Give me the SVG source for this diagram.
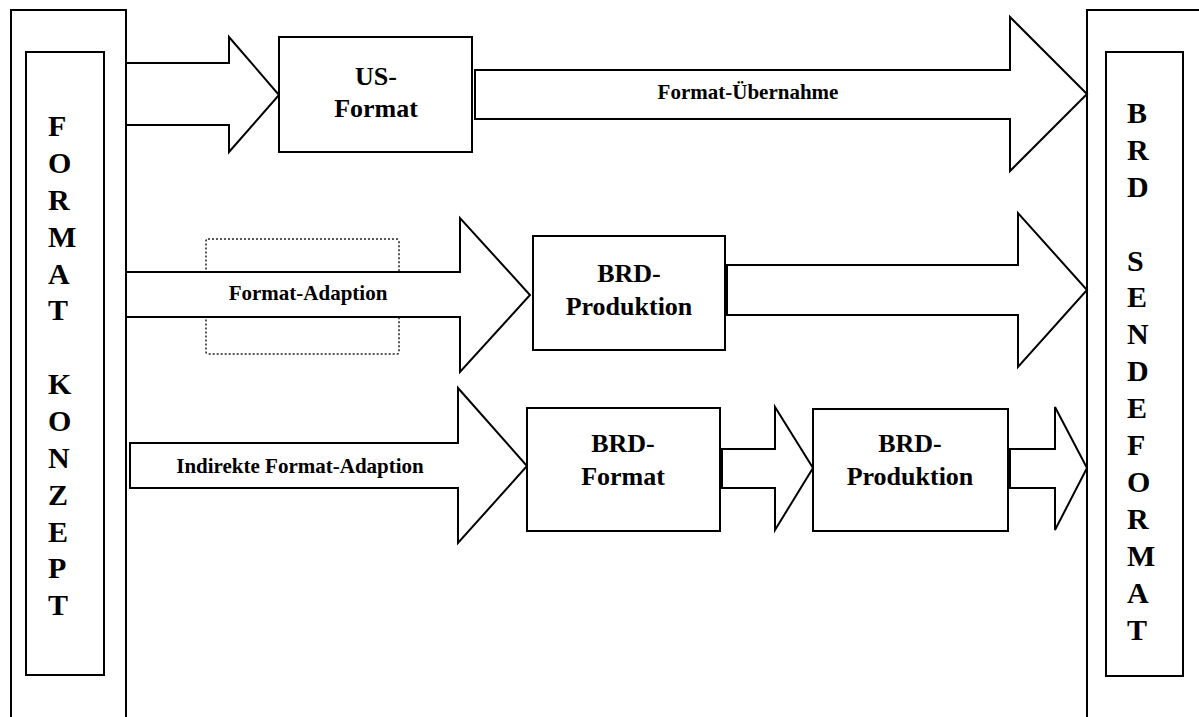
<svg xmlns="http://www.w3.org/2000/svg" width="1199" height="717" viewBox="0 0 1199 717">
<style>
.ln{fill:#fff;stroke:#000;stroke-width:2;stroke-linejoin:miter}
.frame{fill:none;stroke:#000;stroke-width:2}
.dot{fill:none;stroke:#222;stroke-width:1.5;stroke-dasharray:2 2}
.col{font-family:"Liberation Serif","Times New Roman",serif;font-weight:bold;font-size:30px;fill:#000}
.box{font-family:"Liberation Serif","Times New Roman",serif;font-weight:bold;font-size:26px;fill:#000;text-anchor:middle}
.lbl{font-family:"Liberation Serif","Times New Roman",serif;font-weight:bold;font-size:21px;fill:#000;text-anchor:middle}
</style>
<rect width="1199" height="717" fill="#fff"/>
<g id="format-konzept">
<rect class="frame" x="11" y="10" width="115" height="720"/>
<rect class="frame" x="26" y="52" width="78" height="623"/>
<text class="col" x="48" y="136">F</text>
<text class="col" x="48" y="173">O</text>
<text class="col" x="48" y="210">R</text>
<text class="col" x="48" y="247">M</text>
<text class="col" x="48" y="284">A</text>
<text class="col" x="48" y="320">T</text>
<text class="col" x="48" y="394">K</text>
<text class="col" x="48" y="431">O</text>
<text class="col" x="48" y="468">N</text>
<text class="col" x="48" y="505">Z</text>
<text class="col" x="48" y="542">E</text>
<text class="col" x="48" y="578">P</text>
<text class="col" x="48" y="615">T</text>
</g>
<g id="brd-sendeformat">
<rect class="frame" x="1087" y="10" width="130" height="720"/>
<rect class="frame" x="1106" y="52" width="77" height="624"/>
<text class="col" x="1127" y="123">B</text>
<text class="col" x="1127" y="160">R</text>
<text class="col" x="1127" y="197">D</text>
<text class="col" x="1127" y="271">S</text>
<text class="col" x="1127" y="307">E</text>
<text class="col" x="1127" y="344">N</text>
<text class="col" x="1127" y="381">D</text>
<text class="col" x="1127" y="418">E</text>
<text class="col" x="1127" y="455">F</text>
<text class="col" x="1127" y="492">O</text>
<text class="col" x="1127" y="529">R</text>
<text class="col" x="1127" y="566">M</text>
<text class="col" x="1127" y="603">A</text>
<text class="col" x="1127" y="640">T</text>
</g>
<g id="connectors">
<rect class="dot" x="206" y="239" width="193" height="115" rx="2"/>
<path class="ln" d="M126,63 H229 V37 L279,95 L229,152 V125 H126 Z"/>
<path class="ln" d="M475,70 H1010 V17 L1087,94 L1010,171 V119 H475 Z"/>
<text class="lbl" x="748" y="99">Format-Übernahme</text>
<path class="ln" d="M126,272 H460 V218 L530,295 L460,372 V317 H126 Z"/>
<text class="lbl" x="308" y="300">Format-Adaption</text>
<path class="ln" d="M727,265 H1018 V213 L1087,290 L1018,367 V315 H727 Z"/>
<path class="ln" d="M130,443 H458 V388 L527,466 L458,543 V488 H130 Z"/>
<text class="lbl" x="300" y="473">Indirekte Format-Adaption</text>
<path class="ln" d="M722,449 H775 V407 L813,468 L775,530 V488 H722 Z"/>
<path class="ln" d="M1010,449 H1055 V407 L1087,468 L1055,530 V488 H1010 Z"/>
</g>
<g id="us-format">
<rect class="ln" x="279" y="37" width="193" height="115"/>
<text class="box" x="376" y="85">US-</text>
<text class="box" x="376" y="117">Format</text>
</g>
<g id="brd-produktion-1">
<rect class="ln" x="533" y="236" width="192" height="114"/>
<text class="box" x="629" y="282">BRD-</text>
<text class="box" x="629" y="315">Produktion</text>
</g>
<g id="brd-format">
<rect class="ln" x="527" y="408" width="193" height="123"/>
<text class="box" x="623" y="452">BRD-</text>
<text class="box" x="623" y="485">Format</text>
</g>
<g id="brd-produktion-2">
<rect class="ln" x="813" y="409" width="195" height="122"/>
<text class="box" x="910" y="452">BRD-</text>
<text class="box" x="910" y="485">Produktion</text>
</g>
</svg>
